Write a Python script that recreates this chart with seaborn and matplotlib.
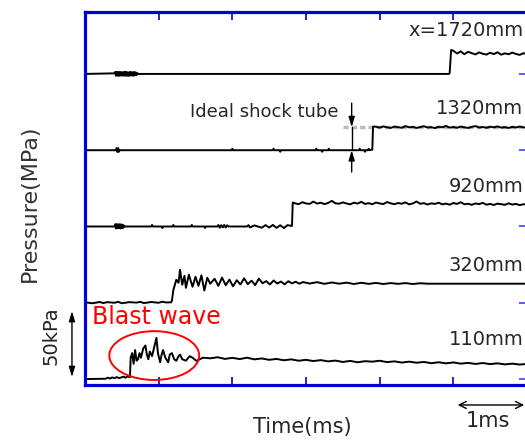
import matplotlib
matplotlib.use("Agg")
import matplotlib.pyplot as plt
import numpy as np
import pandas as pd
import seaborn as sns
from matplotlib.patches import Ellipse

# ---- data (kPa above each trace's own baseline, time in ms) ----
positions = ["110mm", "320mm", "920mm", "1320mm", "x=1720mm"]
offsets = [0, 50, 100, 150, 200]  # stacking offset, kPa

t110 = [0.00, 0.28, 0.31, 0.34, 0.37, 0.40, 0.43, 0.46, 0.49, 0.52, 0.55, 0.58, 0.61,
        0.62, 0.64, 0.66, 0.68, 0.70, 0.72, 0.74, 0.76, 0.79, 0.82, 0.84, 0.86, 0.88,
        0.91, 0.94, 0.97, 0.99, 1.02, 1.04, 1.06, 1.09, 1.13, 1.15, 1.18, 1.21, 1.24,
        1.27, 1.29, 1.32, 1.37, 1.42, 1.46, 1.51, 1.56, 1.60] + list(np.linspace(1.7, 6.0, 44))
p110 = [0, 0.2, 0.9, 0.3, 1.1, 0.5, 1.3, 0.6, 1.0, 1.6, 0.9, 1.8, 1.2,
        14, 17, 10, 19, 12, 13, 17, 14, 20, 22, 16, 13, 18,
        15, 21, 27, 17, 11, 16, 19, 14, 11, 16, 17, 13, 12,
        15, 16, 13, 12, 15, 14, 12, 13, 14,
        13.6, 14.3, 13.2, 13.9, 13.1, 14.0, 12.9, 13.5, 12.6, 13.2,
        12.3, 12.9, 12.0, 12.6, 11.8, 12.4, 11.6, 12.1, 11.2, 11.9,
        11.0, 11.7, 11.4, 12.0, 11.1, 11.6, 10.8, 11.4, 10.7, 11.2,
        10.4, 11.0, 10.3, 10.9, 10.1, 10.6, 9.9, 10.5, 9.8, 10.3,
        9.6, 10.1, 9.5, 9.9]

t320 = [0.0, 0.1, 0.2, 0.25, 0.3, 0.4, 0.45, 0.5, 0.6, 0.7, 0.75, 0.8, 0.9, 1.0, 1.05, 1.1, 1.17,
        1.18, 1.20, 1.24, 1.27, 1.29, 1.32, 1.35, 1.37, 1.41, 1.46, 1.50, 1.54, 1.58, 1.62,
        1.66, 1.70, 1.76, 1.81] + list(np.linspace(1.86, 2.96, 23)) \
       + list(np.linspace(3.05, 4.55, 16)) + [4.65, 6.0]
p320 = [0.3, -0.3, 0.5, -0.2, 0.4, 0.0, 0.6, -0.3, 0.4, 0.1, 0.6, -0.2, 0.5, 0.0, 0.7, 0.2, 0.3,
        1.5, 8.5, 15.1, 13.1, 21.6, 11.8, 17.7, 9.8, 18.4, 10.5, 17.0, 11.1, 18.0, 8.0,
        16.4, 12.5, 15.7, 11.1,
        16.5, 11.5, 15.2, 10.8, 14.8, 12.0, 16.0, 12.2, 14.5, 11.6, 15.8, 12.8, 14.2,
        12.0, 14.6, 12.6, 13.9, 12.1, 14.1, 12.7, 13.8, 12.5, 13.6,
        12.6, 13.5, 12.4, 13.3, 12.5, 13.2, 12.3, 13.1, 12.4, 13.0, 12.3, 12.9, 12.4,
        12.9, 12.3, 12.8, 12.5, 12.5]

t920 = [0] + list(np.linspace(0.40, 0.54, 15)) + [
        0.90, 0.91, 0.92, 1.04, 1.05, 1.06,
        1.19, 1.20, 1.21, 1.44, 1.45, 1.46, 1.62, 1.63, 1.64, 1.80, 1.81, 1.83, 1.85, 1.87,
        1.89, 1.91, 1.93, 1.95, 2.20, 2.22, 2.24, 2.30, 2.40, 2.45, 2.50, 2.55, 2.60, 2.65,
        2.70, 2.75, 2.80, 2.81, 2.82] + list(np.linspace(2.85, 6.0, 64))
p920 = [0, 0, 1.5, -1.3, 1.6, -1.2, 1.4, -1.0, 1.5, -1.3, 1.4, -1.1, 1.2, -0.9, 0.6, 0,
        0, 1.0, 0, 0, -1.0, 0,
        0, 1.0, 0, 0, 1.0, 0, 0, -1.0, 0, 0, 1.0, -0.8, 0.9, -0.6,
        1.0, -0.7, 0.8, 0, 0, 0.9, -0.6, 0.7, -0.8, 0.9, -0.7, 1.0, -0.9, 0.8,
        -1.0, 0.9, 0.4, 0.4, 15.7,
        15.2, 14.6, 15.9, 15.1, 14.8, 16.3, 15.0, 15.6, 14.7, 15.4,
        16.8, 15.2, 14.9, 15.8, 15.1, 14.5, 15.6, 15.0, 16.2, 14.8,
        15.3, 14.6, 15.7, 15.1, 14.7, 16.0, 15.2, 14.6, 15.4, 14.9,
        15.8, 14.5, 15.1, 16.4, 14.9, 15.3, 14.4, 15.2, 14.8, 15.6,
        14.5, 15.0, 14.3, 15.4, 14.8, 15.9, 14.6, 14.9, 14.2, 15.1,
        14.7, 15.5, 14.3, 14.8, 14.1, 15.0, 14.6, 14.2, 15.2, 14.4,
        14.8, 14.0, 14.6, 14.3]

t1320 = [0, 0.42, 0.43, 0.44, 0.45, 0.46, 0.47, 1.99, 2.0, 2.01, 2.55, 2.56, 2.57,
         2.64, 2.65, 2.66, 3.13, 3.14, 3.15, 3.21, 3.22, 3.23, 3.30, 3.31, 3.32,
         3.72, 3.73, 3.74, 3.79, 3.80, 3.81, 3.84, 3.85, 3.86, 3.89, 3.90, 3.91] \
        + list(np.linspace(3.95, 6.0, 42))
p1320 = [0, 0, 1.4, -1.2, 1.4, -1.0, 0, 0, 1.0, 0, 0, 1.0, 0,
         0, -1.0, 0, 0, 1.0, 0, 0, -1.0, 0, 0, 1.0, 0,
         0, 1.0, 0, 0, -1.0, 0, 0, 1.0, 0, 0.3, 0.3, 15.5,
         15.4, 14.8, 15.6, 15.0, 14.6, 15.5, 15.1, 14.7, 15.8, 15.0,
         15.3, 14.6, 15.2, 15.7, 14.9, 15.1, 14.5, 15.4, 15.0, 15.9,
         14.8, 15.2, 14.7, 15.5, 15.0, 14.6, 15.3, 15.8, 14.9, 15.2,
         14.7, 15.4, 15.0, 15.6, 14.8, 15.1, 14.6, 15.3, 14.9, 15.5,
         15.0, 14.8]

t1720 = [0] + list(np.linspace(0.40, 0.72, 33)) + [4.94, 4.95, 4.96, 4.97] \
        + list(np.linspace(5.0, 6.0, 21))
p1720 = [0, 0.4, 1.3, -1.2, 1.4, -1.1, 1.2, -1.3, 1.3, -1.0, 1.2, -1.2, 1.1, -1.0,
         1.3, -1.2, 1.4, -1.1, 1.2, -1.3, 1.0, -1.2, 1.3, -1.1, 1.2, -1.0, 1.1, -1.2,
         1.3, -0.9, 1.0, -0.8, 0.6, 0,
         0, 0.5, 8.0, 15.7,
         15.2, 13.4, 14.8, 12.9, 14.5, 13.6, 12.8, 14.1, 13.2, 12.7,
         13.9, 13.0, 14.2, 12.6, 13.5, 12.9, 14.0, 13.1, 12.5, 13.6, 12.9]

trace_t = [t110, t320, t920, t1320, t1720]
trace_p = [p110, p320, p920, p1320, p1720]

# ideal shock tube level for the 1320mm gauge
ideal_t = [3.5, 6.0]
ideal_p = [15.1, 15.1]

frames = []
for name, off, tt, pp in zip(positions, offsets, trace_t, trace_p):
    frames.append(pd.DataFrame({"t": tt, "p": np.asarray(pp) + off, "gauge": name}))
df = pd.concat(frames, ignore_index=True)

# ---- plot ----
sns.set_style("white")
BLUE = "#0000d0"

fig = plt.figure(figsize=(5.25, 4.42), dpi=100)
ax = fig.add_axes([85 / 525, 57 / 442, 442 / 525, 373 / 442])

ax.plot(ideal_t, np.asarray(ideal_p) + offsets[3], color="#bbbbbb", lw=2.5,
        dashes=(1.5, 0.9), zorder=1)

sns.lineplot(data=df, x="t", y="p", units="gauge", estimator=None, sort=False,
             color="black", lw=1.4, ax=ax, legend=False, zorder=2)

ax.set_xlim(0, 6)
ax.set_ylim(-3.9, 240.6)
ax.set_xticks([1, 2, 3, 4, 5])
ax.set_yticks(offsets)
ax.tick_params(axis="x", direction="in", top=True, bottom=True, labelbottom=False,
               length=6, width=1.2, color=BLUE)
ax.tick_params(axis="y", direction="in", left=False, right=True, labelleft=False,
               length=6, width=1.2, color="#3344ff")
ax.set_xlabel("")
ax.set_ylabel("")
for sp in ax.spines.values():
    sp.set_color(BLUE)
    sp.set_linewidth(2.3)

# gauge labels
label_y = [25.6, 74.7, 125.9, 177.6, 228.8]
for name, ly in zip(positions, label_y):
    ax.text(5.95, ly, name, ha="right", va="center", fontsize=14)

# ideal shock tube annotation
ax.text(3.44, 175.0, "Ideal shock tube", ha="right", va="center", fontsize=13)
ax.plot([3.62, 3.62], [150, 165.1], color="black", lw=1)
ax.annotate("", xy=(3.62, 165.1), xytext=(3.62, 180.9),
            arrowprops=dict(arrowstyle="-|>,head_length=0.6,head_width=0.18",
                            color="black", lw=1, shrinkA=0, shrinkB=0))
ax.annotate("", xy=(3.62, 150.0), xytext=(3.62, 135.7),
            arrowprops=dict(arrowstyle="-|>,head_length=0.6,head_width=0.18",
                            color="black", lw=1, shrinkA=0, shrinkB=0))

# blast wave
ax.text(0.095, 40.6, "Blast wave", color="red", ha="left", va="center", fontsize=17)
ax.add_patch(Ellipse((0.94, 15.4), 1.22, 32, fill=False, ec="red", lw=1.4, zorder=3))

# scale arrows
ax.annotate("", xy=(-0.177, 1.3), xytext=(-0.177, 44.6), annotation_clip=False,
            arrowprops=dict(arrowstyle="<|-|>,head_length=0.6,head_width=0.18",
                            color="black", lw=1, shrinkA=0, shrinkB=0))
ax.annotate("", xy=(5.06, -17.0), xytext=(5.96, -17.0), annotation_clip=False,
            arrowprops=dict(arrowstyle="<->,head_length=0.5,head_width=0.25",
                            color="black", lw=1, shrinkA=0, shrinkB=0))

fig.text(30 / 525, 1 - 203 / 442, "Pressure(MPa)", rotation=90, ha="center", va="center",
         fontsize=16, color="#333333")
fig.text(51 / 525, 1 - 336 / 442, "50kPa", rotation=90, ha="center", va="center",
         fontsize=14, color="#222222")
fig.text(302 / 525, 1 - 427 / 442, "Time(ms)", ha="center", va="center", fontsize=15)
fig.text(488 / 525, 1 - 421 / 442, "1ms", ha="center", va="center", fontsize=15)

fig.savefig("out.png", dpi=100)
